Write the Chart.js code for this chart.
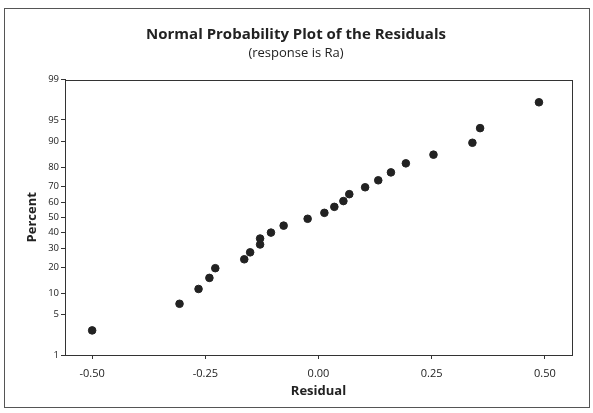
<!DOCTYPE html>
<html>
<head>
<meta charset="utf-8">
<script src="https://cdn.jsdelivr.net/npm/chart.js@4"></script>
<style>
  html, body { margin: 0; padding: 0; background: #fff; }
  #wrap { width: 593px; height: 413px; }
</style>
</head>
<body>
<div id="wrap"><canvas id="myChart" width="593" height="413"></canvas></div>
<script>
// residuals and their plotted percent
const residuals = [-0.500, -0.307, -0.265, -0.241, -0.228, -0.164, -0.151, -0.129, -0.129, -0.105, -0.077, -0.024,
                   0.013, 0.035, 0.055, 0.068, 0.103, 0.132, 0.160, 0.193, 0.254, 0.340, 0.357, 0.487];
const percents  = [2.8, 7.2, 11.3, 15.3, 19.5, 23.9, 27.7, 32.3, 36.0, 39.8, 44.4, 49.0,
                   53.0, 57.0, 60.8, 65.2, 69.4, 73.4, 77.6, 81.9, 85.5, 89.6, 93.4, 97.4];
const percentTicks  = [1, 5, 10, 20, 30, 40, 50, 60, 70, 80, 90, 95, 99];
const residualTicks = [-0.50, -0.25, 0.00, 0.25, 0.50];

// inverse normal cdf (Acklam) - used for the probability scale
function probit(p) {
  const a = [-39.69683028665376, 220.9460984245205, -275.9285104469687, 138.3577518672690, -30.66479806614716, 2.506628277459239];
  const b = [-54.47609879822406, 161.5858368580409, -155.6989798598866, 66.80131188771972, -13.28068155288572];
  const c = [-0.007784894002430293, -0.3223964580411365, -2.400758277161838, -2.549732539343734, 4.374664141464968, 2.938163982698783];
  const d = [0.007784695709041462, 0.3224671290700398, 2.445134137142996, 3.754408661907416];
  const pl = 0.02425;
  let q, r;
  if (p < pl) {
    q = Math.sqrt(-2 * Math.log(p));
    return (((((c[0]*q+c[1])*q+c[2])*q+c[3])*q+c[4])*q+c[5]) / ((((d[0]*q+d[1])*q+d[2])*q+d[3])*q+1);
  }
  if (p > 1 - pl) {
    q = Math.sqrt(-2 * Math.log(1 - p));
    return -(((((c[0]*q+c[1])*q+c[2])*q+c[3])*q+c[4])*q+c[5]) / ((((d[0]*q+d[1])*q+d[2])*q+d[3])*q+1);
  }
  q = p - 0.5; r = q * q;
  return (((((a[0]*r+a[1])*r+a[2])*r+a[3])*r+a[4])*r+a[5])*q / (((((b[0]*r+b[1])*r+b[2])*r+b[3])*r+b[4])*r+1);
}

const pts = residuals.map((r, i) => ({ x: r, y: probit(percents[i] / 100) }));

const FONT = '"Open Sans", Lato, sans-serif';
const INK = '#222';

// box around the plot area and the outer graph frame
const frame = {
  id: 'frame',
  afterDraw(chart) {
    const { ctx, chartArea: a } = chart;
    ctx.save();
    ctx.strokeStyle = '#333';
    ctx.lineWidth = 1;
    ctx.strokeRect(Math.round(a.left) + 0.5, Math.round(a.top) + 0.5, Math.round(a.right - a.left), Math.round(a.bottom - a.top));
    ctx.strokeStyle = '#555';
    ctx.strokeRect(4.5, 8.5, 585, 399);
    ctx.restore();
  }
};

const ctx = document.getElementById('myChart');
new Chart(ctx, {
  type: 'scatter',
  data: {
    datasets: [{
      data: pts,
      backgroundColor: INK,
      borderColor: INK,
      pointRadius: 3.8,
      pointHoverRadius: 3.8
    }]
  },
  options: {
    responsive: false,
    animation: false,
    events: [],
    layout: { padding: { left: 20, right: 21, top: 10, bottom: 14 } },
    plugins: {
      legend: { display: false },
      tooltip: { enabled: false },
      title: {
        display: true,
        text: 'Normal Probability Plot of the Residuals',
        color: INK,
        font: { family: FONT, size: 15, weight: 'bold' },
        padding: { top: 16, bottom: 1 }
      },
      subtitle: {
        display: true,
        text: '(response is Ra)',
        color: INK,
        font: { family: FONT, size: 13 },
        padding: { top: 0, bottom: 19 }
      }
    },
    scales: {
      x: {
        type: 'linear',
        min: -0.56,
        max: 0.56,
        afterBuildTicks: s => { s.ticks = residualTicks.map(v => ({ value: v })); },
        afterFit: s => { s.height = 44; },
        grid: { drawOnChartArea: false, tickLength: 4, color: '#333' },
        border: { color: '#333' },
        ticks: {
          color: INK,
          font: { family: FONT, size: 11 },
          padding: 8,
          callback: v => v.toFixed(2)
        },
        title: {
          display: true,
          text: 'Residual',
          color: INK,
          font: { family: FONT, size: 13, weight: 'bold' },
          padding: { top: 0, bottom: 0 }
        }
      },
      y: {
        type: 'linear',
        min: probit(0.01),
        max: probit(0.99),
        afterBuildTicks: s => { s.ticks = percentTicks.map(p => ({ value: probit(p / 100) })); },
        afterFit: s => { s.width = 45; },
        grid: { drawOnChartArea: false, tickLength: 4, color: '#333' },
        border: { color: '#333' },
        ticks: {
          color: INK,
          font: { family: FONT, size: 9.5 },
          padding: 2,
          autoSkip: false,
          callback: (v, i) => percentTicks[i]
        },
        title: {
          display: true,
          text: 'Percent',
          color: INK,
          font: { family: FONT, size: 13, weight: 'bold' },
          padding: { top: 4, bottom: 0 }
        }
      }
    }
  },
  plugins: [frame]
});
</script>
</body>
</html>
